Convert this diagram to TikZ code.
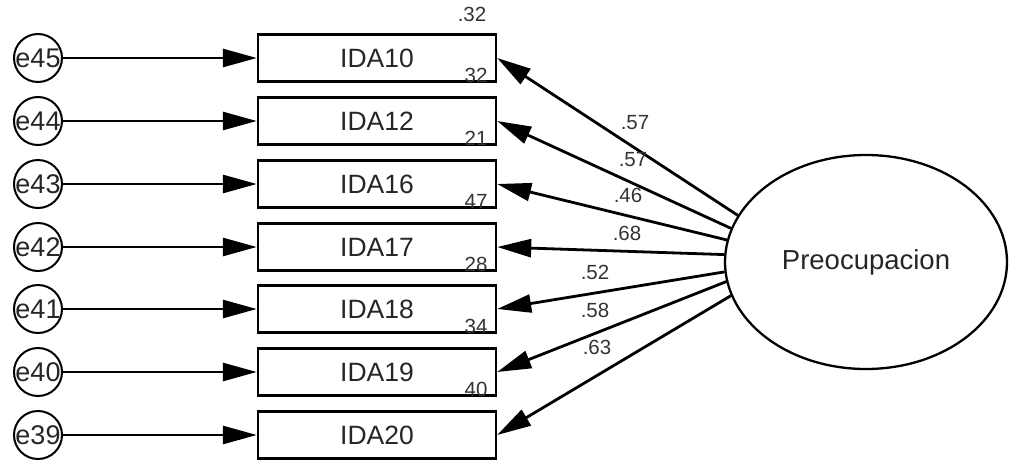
\documentclass[tikz,border=0pt]{standalone}
\usepackage{fontspec}
\setmainfont{Liberation Sans}
\usetikzlibrary{arrows.meta,shapes.geometric}
\begin{document}
\begin{tikzpicture}[x=1pt,y=-1pt,
  obs/.style={draw, line width=2.4pt, minimum width=238pt, minimum height=47pt, inner sep=0pt, font=\fontsize{26.5}{26.5}\selectfont, text=black!85},
  err/.style={circle, draw, line width=2pt, minimum size=48pt, inner sep=0pt, font=\fontsize{27}{27}\selectfont, text=black!85},
  lat/.style={ellipse, draw, line width=2.3pt, minimum width=282pt, minimum height=214pt, inner sep=0pt, font=\fontsize{27.5}{27.5}\selectfont, text=black!85},
  num/.style={font=\fontsize{20.5}{20.5}\selectfont, inner sep=0pt, text=black!80},
  arr/.style={line width=2.8pt, -{Triangle[length=34pt,width=18pt]}},
]
\useasboundingbox (0,0) rectangle (1010,461);
\foreach \e/\i/\y in {45/10/58, 44/12/121, 43/16/184, 42/17/247, 41/18/309, 40/19/372, 39/20/435} {
  \node[err] (e\e) at (38,\y) {\makebox[0pt]{e\e}};
  \node[obs] (v\i) at (377,\y) {IDA\i};
  \draw[arr] (e\e) -- (v\i);
}
\node[lat] (P) at (866,262) {Preocupacion};
\foreach \i/\a in {10/160.6, 12/166.6, 16/171.4, 17/177.1, 18/184.1, 19/188.6, 20/194.7}
  \draw[arr] (P.\a) -- (v\i.east);
% squared multiple correlations
\node[num] (r10) at (472,14) {.32};
\foreach \t/\b in {32/82, 21/145, 47/208, 28/271, 34/333, 40/396}
  \node[num, anchor=base] (r\t) at (476,\b) {\t};
% loadings
\node[num] (l10) at (635,123) {.57};
\node[num] (l12) at (633,160) {.57};
\node[num] (l16) at (628,195) {.46};
\node[num] (l17) at (627,233) {.68};
\node[num] (l18) at (595,272) {.52};
\node[num] (l19) at (595,310) {.58};
\node[num] (l20) at (597,347) {.63};
\end{tikzpicture}
\end{document}
